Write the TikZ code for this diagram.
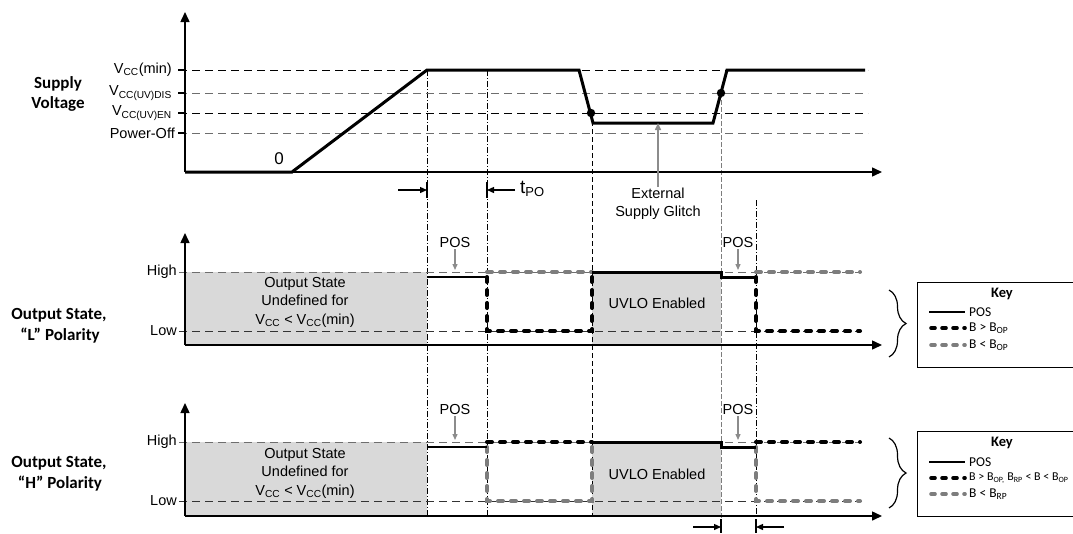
\documentclass[tikz,border=0pt]{standalone}
\usepackage{fontspec}
\setmainfont{Liberation Sans}
\newfontfamily\calib{Carlito}
\usetikzlibrary{arrows.meta,decorations.pathreplacing}
\definecolor{dgray}{RGB}{125,125,125}
\definecolor{lgray}{RGB}{110,110,110}
\definecolor{fillg}{RGB}{217,217,217}
\definecolor{arrg}{RGB}{140,140,140}
\tikzset{
  axis/.style={line width=1.5pt,-{Triangle[length=10pt,width=9pt]}},
  sig/.style={line width=3pt,line join=miter},
  thinsig/.style={line width=2.4pt},
  bdash/.style={line width=4pt,dash pattern=on 5pt off 8pt,line cap=round,black},
  gdash/.style={line width=4pt,dash pattern=on 5pt off 8pt,line cap=round,dgray},
  lvl/.style={line width=0.9pt,dash pattern=on 8pt off 5pt},
  guide/.style={line width=0.7pt,dash pattern=on 6pt off 2pt on 1pt off 2pt},
  lab/.style={font=\fontsize{14.5}{18.5}\selectfont,inner sep=1pt},
  side/.style={font=\calib\bfseries\fontsize{17}{20.5}\selectfont,align=center,inner sep=0pt},
  keyt/.style={font=\calib\fontsize{13.5}{14}\selectfont,anchor=west,inner sep=0pt},
  keyh/.style={font=\calib\bfseries\fontsize{14.5}{15}\selectfont},
  posarr/.style={arrg,line width=1.3pt,-{Triangle[length=6pt,width=5pt]}},
  dimarr/.style={line width=1.3pt,-{Triangle[length=7pt,width=6pt]}},
  brc/.style={decorate,decoration={brace,amplitude=17pt},line width=1.2pt},
}
\begin{document}
\begin{tikzpicture}[x=1pt,y=-1pt]
\useasboundingbox (0,0) rectangle (1073,533);
% ---------- shaded regions
\fill[fillg] (185,272) rectangle (427,345);
\fill[fillg] (592,272) rectangle (721,345);
\fill[fillg] (185,442) rectangle (427,516);
\fill[fillg] (592,442) rectangle (721,516);
% ---------- guides
\draw[guide] (427,70) -- (427,516);
\draw[guide] (487,70) -- (487,516);
\draw[guide,dash pattern=on 5pt off 3pt] (592,113) -- (592,516);
\draw[guide,dgray,line width=1pt,dash pattern=on 5pt off 2pt] (721,93) -- (721,533);
\draw[guide] (756,200) -- (756,533);
% ---------- level lines top
\draw[lvl,black] (179,70) -- (868,70);
\draw[lvl,lgray] (179,93) -- (868,93);
\draw[lvl,black] (179,113) -- (868,113);
\draw[lvl,lgray] (179,133) -- (868,133);
\foreach \yy in {70,93,113,133} \draw[line width=1.5pt] (178,\yy) -- (185,\yy);
% level lines middle / bottom
\draw[lvl,lgray] (179,272) -- (862,272);
\draw[lvl,black!80] (179,331) -- (862,331);
\draw[lvl,lgray] (179,442) -- (862,442);
\draw[lvl,black!80] (179,501) -- (862,501);
% ---------- axes
\coordinate (o1) at (185,172); \coordinate (t1) at (185,12); \coordinate (r1) at (882,172);
\coordinate (o2) at (185,345); \coordinate (t2) at (185,233); \coordinate (r2) at (882,345);
\coordinate (o3) at (185,516); \coordinate (t3) at (185,403); \coordinate (r3) at (882,516);
\draw[axis] (o1) -- (t1); \draw[axis] (o1) -- (r1);
\draw[axis] (o2) -- (t2); \draw[axis] (o2) -- (r2);
\draw[axis] (o3) -- (t3); \draw[axis] (o3) -- (r3);
% ---------- supply waveform
\draw[sig] (185,172) -- (292,172) -- (427,70) -- (579,70) -- (593,123) -- (713,123) -- (727,70) -- (865,70);
\fill (591,113) circle (4.2pt);
\fill (721,93) circle (4.2pt);
% ---------- L polarity
\draw[gdash] (487,272) -- (592,272);
\draw[bdash] (487,277) -- (487,331) -- (592,331) -- (592,272);
\draw[gdash] (756,272) -- (860,272);
\draw[bdash] (756,277) -- (756,331) -- (860,331);
\draw[thinsig] (427,277) -- (487,277);
\draw[sig] (592,272) -- (721,272) -- (721,277) -- (756,277);
% ---------- H polarity
\draw[gdash] (487,447) -- (487,501) -- (592,501) -- (592,442);
\draw[bdash] (487,442) -- (592,442);
\draw[gdash] (756,447) -- (756,501) -- (860,501);
\draw[bdash] (756,442) -- (860,442);
\draw[thinsig] (427,447) -- (487,447);
\draw[sig] (592,442) -- (721,442) -- (721,447) -- (756,447);
% ---------- level labels
\node[lab,anchor=east] (vmin) at (173,70) {V\textsubscript{CC}(min)};
\node[lab,anchor=east] (vdis) at (173,93) {V\textsubscript{CC(UV)DIS}};
\node[lab,anchor=east] (ven) at (173,113) {V\textsubscript{CC(UV)EN}};
\node[lab,anchor=east] (voff) at (176,133) {Power-Off};
\node[font=\fontsize{17}{19}\selectfont] (zero) at (279,159) {0};
\node[lab,anchor=east] (hi1) at (178,272) {High};
\node[lab,anchor=east] (lo1) at (178,331) {Low};
\node[lab,anchor=east] (hi2) at (178,442) {High};
\node[lab,anchor=east] (lo2) at (178,501) {Low};
% ---------- side labels
\node[side] (s1) at (58,94) {Supply\\Voltage};
\node[side] (s2) at (59,326) {Output State,\\\hspace*{2pt}“L”\hspace{4pt}Polarity};
\node[side] (s3) at (59,474) {Output State,\\\hspace*{2pt}“H” Polarity};
% ---------- region texts
\node[lab,align=center] (u1) at (305,302) {Output State\\Undefined for\\V\textsubscript{CC} < V\textsubscript{CC}(min)};
\node[lab,align=center] (u2) at (305,473) {Output State\\Undefined for\\V\textsubscript{CC} < V\textsubscript{CC}(min)};
\node[lab] (uv1) at (657,303) {UVLO Enabled};
\node[lab] (uv2) at (657,474) {UVLO Enabled};
% ---------- glitch
\node[lab,align=center,font=\fontsize{14.5}{18}\selectfont] (gl) at (658,204) {External\\Supply Glitch};
\coordinate (glt) at (658,123);
\draw[arrg,line width=1.5pt,-{Triangle[length=7pt,width=6pt]}] (gl.north) -- (glt);
% ---------- POS markers
\node[lab] (p1) at (455,243) {POS};
\node[lab] (p2) at (738,243) {POS};
\node[lab] (p3) at (455,410) {POS};
\node[lab] (p4) at (738,410) {POS};
\coordinate (p1e) at (455,270); \coordinate (p2e) at (738,270);
\coordinate (p3e) at (455,440); \coordinate (p4e) at (738,440);
\draw[posarr] (p1.south) -- (p1e);
\draw[posarr] (p2.south) -- (p2e);
\draw[posarr] (p3.south) -- (p3e);
\draw[posarr] (p4.south) -- (p4e);
% ---------- tPO dimension
\draw[line width=1.3pt] (427,182) -- (427,198);
\draw[line width=1.3pt] (487,182) -- (487,198);
\coordinate (a1s) at (398,190); \coordinate (a1e) at (427,190);
\coordinate (a2s) at (515,190); \coordinate (a2e) at (487,190);
\draw[dimarr] (a1s) -- (a1e);
\draw[dimarr] (a2s) -- (a2e);
\node[font=\fontsize{19}{21}\selectfont,anchor=west,inner sep=0pt] (tpo) at (520,189) {t\textsubscript{\fontsize{13}{14}\selectfont PO}};
% bottom dimension
\draw[line width=1.3pt] (721,519) -- (721,533);
\draw[line width=1.3pt] (756,519) -- (756,533);
\coordinate (b1s) at (693,527); \coordinate (b1e) at (721,527);
\coordinate (b2s) at (784,527); \coordinate (b2e) at (756,527);
\draw[dimarr] (b1s) -- (b1e);
\draw[dimarr] (b2s) -- (b2e);
% ---------- braces
\draw[brc] (889,290) -- (889,357);
\draw[brc] (889,438) -- (889,508);
% ---------- keys
\node[draw,line width=1.2pt,minimum width=170pt,minimum height=85pt,anchor=north west,inner sep=0pt] (k1) at (917,282) {};
\node[draw,line width=1.2pt,minimum width=170pt,minimum height=85pt,anchor=north west,inner sep=0pt] (k2) at (917,431) {};
\node[keyh] (k1t) at (1002,294) {Key};
\draw[line width=2.4pt] (929,312) -- (965,312);
\draw[bdash,line width=3.6pt,dash pattern=on 4pt off 7pt] (931,328) -- (965,328);
\draw[gdash,line width=3.6pt,dash pattern=on 4pt off 7pt] (931,345) -- (965,345);
\node[keyt] (k1a) at (969,312) {POS};
\node[keyt] (k1b) at (969,328) {B > B\textsubscript{OP}};
\node[keyt] (k1c) at (969,345) {B < B\textsubscript{OP}};
\node[keyh] (k2t) at (1002,443) {Key};
\draw[line width=2.4pt] (929,462) -- (965,462);
\draw[bdash,line width=3.6pt,dash pattern=on 4pt off 7pt] (931,478) -- (965,478);
\draw[gdash,line width=3.6pt,dash pattern=on 4pt off 7pt] (931,494) -- (965,494);
\node[keyt] (k2a) at (969,462) {POS};
\node[keyt,font=\calib\fontsize{12}{13}\selectfont] (k2b) at (969,478) {B > B\textsubscript{OP,} B\textsubscript{RP} < B < B\textsubscript{OP}};
\node[keyt] (k2c) at (969,494) {B < B\textsubscript{RP}};
\end{tikzpicture}
\end{document}
